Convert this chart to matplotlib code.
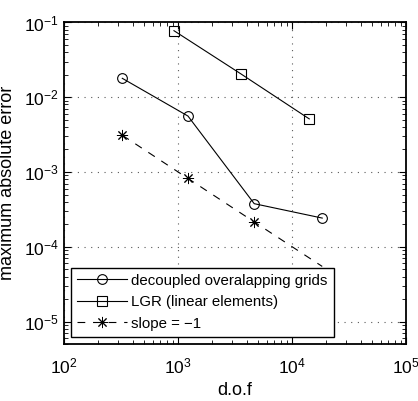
import matplotlib
matplotlib.use("Agg")
import matplotlib.pyplot as plt

plt.rcParams['font.family'] = ['Liberation Sans', 'DejaVu Sans']
plt.rcParams['mathtext.default'] = 'regular'

# decoupled overlapping grids
dof_dog = [325, 1225, 4670, 18450]
err_dog = [1.79e-2, 5.6e-3, 3.77e-4, 2.42e-4]
# LGR (linear elements)
dof_lgr = [923, 3590, 14200]
err_lgr = [7.76e-2, 2.04e-2, 5.13e-3]
# slope = -1 reference
dof_ref = [325, 1225, 4670, 18450]
err_ref = [3.1e-3, 8.2e-4, 2.15e-4, 5.46e-5]

fig = plt.figure(figsize=(4.18, 4.01), dpi=100)
ax = fig.add_axes([0.153, 0.142, 0.818, 0.802])

ax.loglog(dof_dog, err_dog, 'k-o', lw=0.8, ms=7, mfc='none', mew=0.8,
          label='decoupled overalapping grids')
ax.loglog(dof_lgr, err_lgr, 'k-s', lw=0.8, ms=6.5, mfc='none', mew=0.8,
          label='LGR (linear elements)')
ax.loglog(dof_ref, err_ref, 'k--', marker=(8, 2, 0), lw=0.8, ms=8, mew=0.7,
          dashes=(7, 7), markevery=[0, 1, 2], label='slope = \u22121')

ax.set_xlim(1e2, 1e5)
ax.set_ylim(5e-6, 1e-1)
ax.grid(True, which='major', ls=(0, (1, 5)), color='0.35', lw=0.8)
ax.tick_params(which='both', direction='in', top=True, right=True, labelsize=12.5)
ax.tick_params(axis='x', which='major', pad=9)
ax.tick_params(which='major', length=5)
ax.tick_params(which='minor', length=3)
for s in ax.spines.values():
    s.set_linewidth(1.3)

ax.set_xlabel('d.o.f', fontsize=13, labelpad=4)
ax.set_ylabel('maximum absolute error', fontsize=13, labelpad=6)

leg = ax.legend(loc='lower left', fontsize=10.8, fancybox=False, edgecolor='k',
                framealpha=1, borderaxespad=0.5, handlelength=3.3,
                labelspacing=0.5, borderpad=0.4, handletextpad=0.3)
leg.get_frame().set_linewidth(1.0)

fig.savefig('out.png', dpi=100)
